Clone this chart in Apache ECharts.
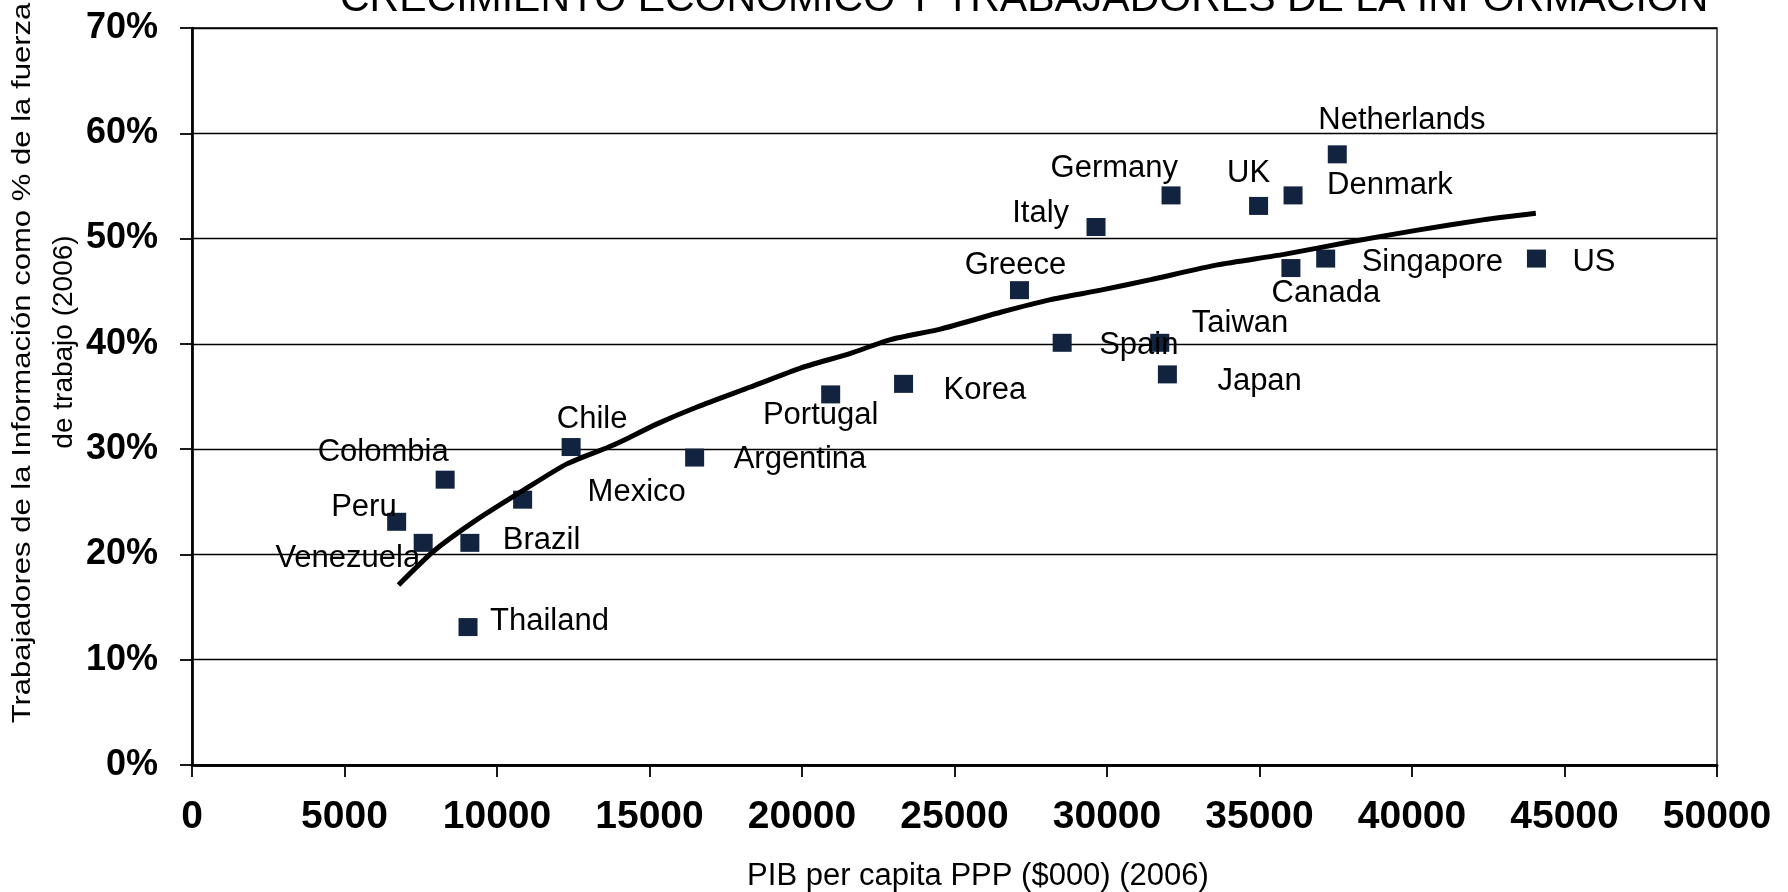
<!DOCTYPE html>
<html>
<head>
<meta charset="utf-8">
<title>Crecimiento económico y trabajadores de la información</title>
<script src="https://cdn.jsdelivr.net/npm/echarts@6/dist/echarts.min.js"></script>
<style>
  html, body { margin: 0; padding: 0; background: #fff; }
  #main { width: 1788px; height: 892px; }
</style>
</head>
<body>
<div id="main"></div>
<script>
// datos
var countries = ['Peru', 'Venezuela', 'Colombia', 'Brazil', 'Thailand', 'Mexico', 'Chile', 'Argentina',
  'Portugal', 'Korea', 'Greece', 'Spain', 'Taiwan', 'Japan', 'Italy', 'Germany', 'UK', 'Denmark',
  'Netherlands', 'Canada', 'Singapore', 'US'];
var pibPerCapita = [6710, 7580, 8300, 9110, 9050, 10840, 12430, 16480,
  20940, 23330, 27130, 28530, 31730, 31980, 29640, 32100, 34970, 36100,
  37550, 36030, 37170, 44080];
var infoWorkers = [23.1, 21.1, 27.1, 21.1, 13.1, 25.2, 30.2, 29.2,
  35.2, 36.2, 45.1, 40.1, 40.1, 37.1, 51.1, 54.1, 53.1, 54.1,
  58.0, 47.2, 48.1, 48.1];

// linea de tendencia
var trendX = [6770, 7920, 9340, 10870, 12290, 13820, 15250, 16560, 18310, 19950, 21590, 22900,
  24540, 26510, 28150, 29790, 31430, 33620, 35800, 37990, 40180, 42370, 44060];
var trendY = [17.1, 20.3, 23.3, 26.1, 28.6, 30.4, 32.4, 34.0, 35.9, 37.7, 39.1, 40.4,
  41.4, 43.0, 44.2, 45.1, 46.1, 47.5, 48.5, 49.7, 50.8, 51.8, 52.4];

var xTicks = { min: 0, max: 50000, step: 5000 };
var yTicks = { min: 0, max: 70, step: 10 };

// donde va cada etiqueta: [align, dx, dy]
var labelPlace = {
  Peru: ['right', 0, -14],
  Venezuela: ['right', -3, 16],
  Colombia: ['center', -62, -27],
  Brazil: ['left', 33, -2],
  Thailand: ['left', 22, -6],
  Mexico: ['left', 65, -7],
  Chile: ['center', 21, -28],
  Argentina: ['left', 39, 2],
  Portugal: ['center', -10, 21],
  Korea: ['left', 40, 7],
  Greece: ['center', -4, -25],
  Spain: ['left', 37, 3],
  Taiwan: ['left', 32, -19],
  Japan: ['left', 50, 7],
  Italy: ['right', -27, -14],
  Germany: ['right', 7, -27],
  UK: ['center', -10, -32],
  Denmark: ['left', 34, -10],
  Netherlands: ['left', -19, -34],
  Canada: ['center', 35, 25],
  Singapore: ['left', 36, 4],
  US: ['left', 36, 4]
};

var font = '"Liberation Sans", Arial, Helvetica, sans-serif';

var points = countries.map(function (c, i) {
  var p = labelPlace[c];
  return {
    name: c,
    value: [pibPerCapita[i], infoWorkers[i]],
    label: { align: p[0], offset: [p[1], p[2]] }
  };
});
var trend = trendX.map(function (x, i) { return [x, trendY[i]]; });

var chart = echarts.init(document.getElementById('main'));
chart.setOption({
  backgroundColor: '#fff',
  animation: false,
  title: {
    text: 'CRECIMIENTO ECONÓMICO Y TRABAJADORES DE LA INFORMACIÓN',
    left: 340,
    top: -21,
    padding: 0,
    textStyle: { fontFamily: font, fontSize: 41, fontWeight: 'normal', color: '#000' }
  },
  grid: {
    left: 192, right: 71, top: 28, bottom: 127,
    show: true, borderColor: '#000', borderWidth: 1.3, backgroundColor: '#fff'
  },
  xAxis: [{
    type: 'value',
    min: xTicks.min, max: xTicks.max, interval: xTicks.step,
    axisLine: { show: true, onZero: false, lineStyle: { color: '#000', width: 2.5 } },
    axisTick: { show: true, length: 12, inside: false, lineStyle: { color: '#000', width: 1.8 } },
    splitLine: { show: false },
    axisLabel: {
      margin: 33, fontFamily: font, fontSize: 39, fontWeight: 'bold', color: '#000',
      formatter: function (v) { return String(v); }
    }
  }, {
    type: 'value',
    position: 'top',
    min: xTicks.min, max: xTicks.max, interval: xTicks.step,
    axisLine: { show: true, lineStyle: { color: '#000', width: 2.7 } },
    axisTick: { show: false },
    axisLabel: { show: false },
    splitLine: { show: false }
  }],
  yAxis: {
    type: 'value',
    min: yTicks.min, max: yTicks.max, interval: yTicks.step,
    axisLine: { show: true, onZero: false, lineStyle: { color: '#000', width: 2.7 } },
    axisTick: { show: true, length: 12, inside: false, lineStyle: { color: '#000', width: 1.8 } },
    splitLine: { show: true, lineStyle: { color: '#000', width: 1.3 } },
    axisLabel: {
      margin: 34, fontFamily: font, fontSize: 36, fontWeight: 'bold', color: '#000',
      formatter: '{value}%'
    }
  },
  graphic: [{
    type: 'text',
    x: 22.6, y: 363,
    rotation: Math.PI / 2,
    scaleX: 1.195,
    style: {
      text: 'Trabajadores de la Información como % de la fuerza',
      font: '26px ' + font, fill: '#000', align: 'center', verticalAlign: 'middle'
    }
  }, {
    type: 'text',
    x: 64, y: 342,
    rotation: Math.PI / 2,
    style: {
      text: 'de trabajo (2006)',
      font: '28px ' + font, fill: '#000', align: 'center', verticalAlign: 'middle'
    }
  }, {
    type: 'text',
    x: 978, y: 876,
    style: {
      text: 'PIB per capita PPP ($000) (2006)',
      font: '31px ' + font, fill: '#000', align: 'center', verticalAlign: 'middle'
    }
  }],
  series: [{
    name: 'Países',
    type: 'scatter',
    symbol: 'rect',
    symbolSize: [19, 18],
    itemStyle: { color: '#12233f', opacity: 1 },
    label: {
      show: true,
      position: 'inside',
      verticalAlign: 'middle',
      formatter: '{b}',
      fontFamily: font,
      fontSize: 31,
      color: '#000'
    },
    data: points,
    z: 2
  }, {
    name: 'Tendencia',
    type: 'line',
    data: trend,
    showSymbol: false,
    smooth: 0.2,
    lineStyle: { color: '#000', width: 5 },
    z: 3
  }]
});
</script>
</body>
</html>
